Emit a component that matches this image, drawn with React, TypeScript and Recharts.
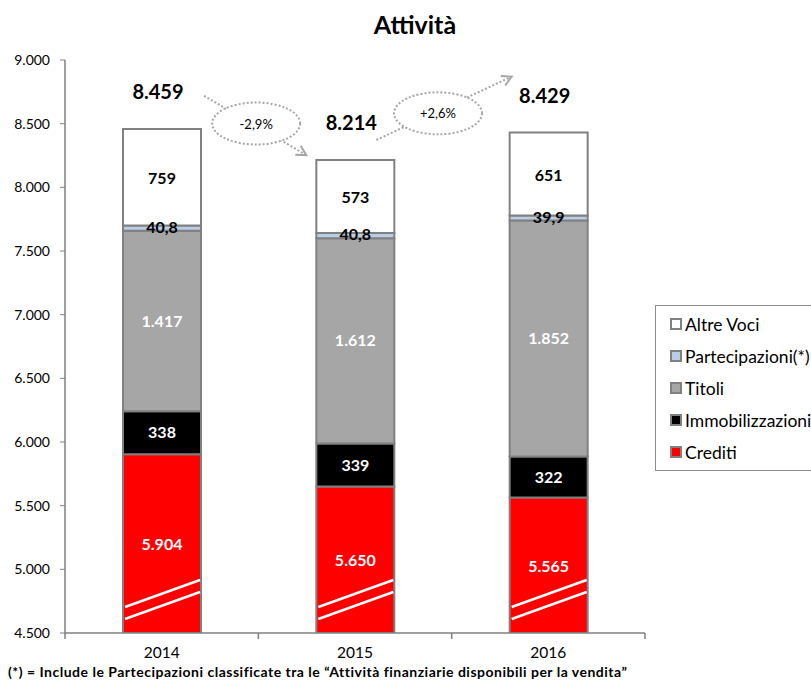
import { BarChart, Bar, XAxis, YAxis, LabelList } from "recharts";

const years = ["2014", "2015", "2016"];
const crediti = [5904, 5650, 5565];
const immobilizzazioni = [338, 339, 322];
const titoli = [1417, 1612, 1852];
const partecipazioni = [40.8, 40.8, 39.9];
const altreVoci = [759, 573, 651];
const totali = [8459, 8214, 8429];
const yTicks = [4500, 5000, 5500, 6000, 6500, 7000, 7500, 8000, 8500, 9000];

const series = [
  { key: "crediti", name: "Crediti", color: "#ff0000" },
  { key: "immobilizzazioni", name: "Immobilizzazioni", color: "#000000" },
  { key: "titoli", name: "Titoli", color: "#a6a6a6" },
  { key: "partecipazioni", name: "Partecipazioni(*)", color: "#b9cde5" },
  { key: "altreVoci", name: "Altre Voci", color: "#ffffff" },
];

const data = years.map((year, i) => ({
  year,
  crediti: crediti[i],
  immobilizzazioni: immobilizzazioni[i],
  titoli: titoli[i],
  partecipazioni: partecipazioni[i],
  altreVoci: altreVoci[i],
}));

const FONT = "Lato, 'Open Sans', sans-serif";
const BORDER = "#808080";
const CHART_W = 811;
const CHART_H = 681;
const MARGIN = { top: 60, right: 166, bottom: 18, left: 0 };
const Y_AXIS_W = 65;
const X_AXIS_H = 30;
const PLOT_BOTTOM = CHART_H - MARGIN.bottom - X_AXIS_H;
const PLOT_W = CHART_W - MARGIN.right - MARGIN.left - Y_AXIS_W;
const STEP = PLOT_W / years.length;

// 5904 -> "5.904", 40.8 -> "40,8"
function fmt(v: number) {
  if (!Number.isInteger(v)) return v.toFixed(1).replace(".", ",");
  return String(v).replace(/\B(?=(\d{3})+(?!\d))/g, ".");
}

function pct(a: number, b: number) {
  const p = ((b - a) / a) * 100;
  return (p > 0 ? "+" : "") + p.toFixed(1).replace(".", ",") + "%";
}

function box(props: any) {
  const vb = props.viewBox ?? props;
  return { x: Number(vb.x), y: Number(vb.y), width: Number(vb.width), height: Number(vb.height) };
}

// year label plus the small tick marks between categories
const YearTick = (props: any) => {
  const { x, y, payload, index } = props;
  const axisY = PLOT_BOTTOM;
  return (
    <g>
      {index === 0 && <line x1={x - STEP / 2} y1={axisY} x2={x - STEP / 2} y2={axisY + 6} stroke={BORDER} strokeWidth={1.5} />}
      <line x1={x + STEP / 2} y1={axisY} x2={x + STEP / 2} y2={axisY + 6} stroke={BORDER} strokeWidth={1.5} />
      <text x={x} y={y} dy="0.71em" textAnchor="middle" fontSize={15.5} fill="#000" fontFamily={FONT}>
        {payload.value}
      </text>
    </g>
  );
};

// red segment is cut at the axis, with the white "break" marks
const CreditiShape = (p: any) => {
  const { x, y, width, height, fill } = p;
  const bottom = Math.min(y + height, PLOT_BOTTOM);
  return (
    <g>
      <rect x={x} y={y} width={width} height={bottom - y} fill={fill} stroke={BORDER} strokeWidth={2} />
      <line x1={x + 2} y1={bottom - 26} x2={x + width - 1} y2={bottom - 53} stroke="#fff" strokeWidth={2.5} />
      <line x1={x + 2} y1={bottom - 14} x2={x + width - 1} y2={bottom - 41} stroke="#fff" strokeWidth={2.5} />
    </g>
  );
};

const CreditiLabel = (props: any) => {
  const { x, y, width, height } = box(props);
  const bottom = Math.min(y + height, PLOT_BOTTOM);
  return (
    <text x={x + width / 2} y={(y + bottom) / 2} textAnchor="middle" dominantBaseline="central"
      fill="#fff" fontSize={16} fontWeight="bold" fontFamily={FONT}>
      {fmt(Number(props.value))}
    </text>
  );
};

const Arrow = ({ x1, y1, x2, y2 }: { x1: number; y1: number; x2: number; y2: number }) => {
  const a = Math.atan2(y2 - y1, x2 - x1);
  const h = 11;
  const p1 = [x2 - h * Math.cos(a - 0.5), y2 - h * Math.sin(a - 0.5)];
  const p2 = [x2 - h * Math.cos(a + 0.5), y2 - h * Math.sin(a + 0.5)];
  return (
    <g>
      <line x1={x1} y1={y1} x2={x2} y2={y2} stroke="#a6a6a6" strokeWidth={2} strokeDasharray="2 2" />
      <polyline points={`${p1[0]},${p1[1]} ${x2},${y2} ${p2[0]},${p2[1]}`} fill="none" stroke="#a6a6a6" strokeWidth={2} />
    </g>
  );
};

// top segment: its own label, the thin Partecipazioni label, the total and the change bubble
const TopLabel = (props: any) => {
  const { x, y, width, height } = box(props);
  const i = props.index ?? altreVoci.indexOf(Number(props.value));
  const k = height / altreVoci[i];
  const cx = x + width / 2;
  const lx = cx - 4;
  const ly = y - 38;
  const partY = y + height + (partecipazioni[i] * k) / 2;

  let connector = null;
  if (i < years.length - 1) {
    const nTop = y + (totali[i] - totali[i + 1]) * k;
    const nlx = lx + STEP;
    const nly = nTop - 38;
    const down = totali[i + 1] < totali[i];
    const s = down ? [lx + 46, ly + 5] : [lx + 25, ly + 18];
    const e = down ? [nlx - 45, nly + 33] : [nlx - 33, nly - 18];
    const mx = (s[0] + e[0]) / 2 + (down ? 1 : -6);
    const my = (s[1] + e[1]) / 2 + (down ? -2 : 5);
    connector = (
      <g>
        <Arrow x1={s[0]} y1={s[1]} x2={e[0]} y2={e[1]} />
        <ellipse cx={mx} cy={my} rx={44} ry={21} fill="#fff" stroke="#a6a6a6" strokeWidth={2} strokeDasharray="2 2" />
        <text x={mx} y={my} textAnchor="middle" dominantBaseline="central" fontSize={13} fontFamily={FONT} fill="#000">
          {pct(totali[i], totali[i + 1])}
        </text>
      </g>
    );
  }

  return (
    <g>
      <text x={cx} y={y + height / 2} textAnchor="middle" dominantBaseline="central"
        fill="#000" fontSize={16} fontWeight="bold" fontFamily={FONT}>
        {fmt(altreVoci[i])}
      </text>
      <text x={cx} y={partY - 2} textAnchor="middle" dominantBaseline="central"
        fill="#000" fontSize={16} fontWeight="bold" fontFamily={FONT}>
        {fmt(partecipazioni[i])}
      </text>
      <text x={lx} y={ly} textAnchor="middle" dominantBaseline="central"
        fill="#000" fontSize={20} fontWeight="bold" fontFamily={FONT}>
        {fmt(totali[i])}
      </text>
      {connector}
    </g>
  );
};

export default function App() {
  return (
    <div style={{ position: "absolute", left: 0, top: 0, width: CHART_W, height: CHART_H, overflow: "hidden", background: "#fff", fontFamily: FONT }}>
      <div style={{ position: "absolute", left: 300, top: 9, width: 230, textAlign: "center", fontSize: 25, fontWeight: "bold", lineHeight: "30px" }}>
        Attività
      </div>
      <BarChart width={CHART_W} height={CHART_H} data={data} margin={MARGIN} barSize={78}>
        <XAxis
          dataKey="year"
          height={X_AXIS_H}
          tickLine={false}
          tickSize={0}
          tickMargin={14}
          axisLine={{ stroke: BORDER, strokeWidth: 1.5 }}
          tick={YearTick}
        />
        <YAxis
          width={Y_AXIS_W}
          domain={[4500, 9000]}
          ticks={yTicks}
          allowDataOverflow
          interval={0}
          tickSize={5}
          tickMargin={10}
          axisLine={{ stroke: BORDER, strokeWidth: 1.5 }}
          tickLine={{ stroke: BORDER }}
          tick={{ fontSize: 14, fill: "#000", fontFamily: FONT }}
          tickFormatter={(v: number) => fmt(v)}
        />
        <Bar dataKey="crediti" stackId="a" fill="#ff0000" shape={CreditiShape} isAnimationActive={false}>
          <LabelList dataKey="crediti" content={CreditiLabel} />
        </Bar>
        <Bar dataKey="immobilizzazioni" stackId="a" fill="#000000" stroke={BORDER} strokeWidth={2} isAnimationActive={false}>
          <LabelList dataKey="immobilizzazioni" position="center" fill="#fff" fontSize={16} fontWeight="bold" fontFamily={FONT} formatter={(v: any) => fmt(Number(v))} />
        </Bar>
        <Bar dataKey="titoli" stackId="a" fill="#a6a6a6" stroke={BORDER} strokeWidth={2} isAnimationActive={false}>
          <LabelList dataKey="titoli" position="center" fill="#fff" fontSize={16} fontWeight="bold" fontFamily={FONT} formatter={(v: any) => fmt(Number(v))} />
        </Bar>
        <Bar dataKey="partecipazioni" stackId="a" fill="#b9cde5" stroke={BORDER} strokeWidth={2} isAnimationActive={false} />
        <Bar dataKey="altreVoci" stackId="a" fill="#ffffff" stroke={BORDER} strokeWidth={2} isAnimationActive={false}>
          <LabelList dataKey="altreVoci" content={TopLabel} />
        </Bar>
      </BarChart>
      <div style={{ position: "absolute", left: 655, top: 305, width: 180, height: 164, border: "1px solid #8c8c8c", background: "#fff" }}>
        {[...series].reverse().map((s, i) => (
          <div key={s.key} style={{ position: "absolute", left: 14, top: 7 + i * 32, height: 22, display: "flex", alignItems: "center", fontSize: 17.5, whiteSpace: "nowrap" }}>
            <span style={{ display: "inline-block", width: 8, height: 8, border: `2px solid ${BORDER}`, background: s.color, marginRight: 3 }} />
            {s.name}
          </div>
        ))}
      </div>
      <div style={{ position: "absolute", left: 8, top: 665, fontSize: 14, lineHeight: "14px", letterSpacing: 0.5, fontWeight: "bold", whiteSpace: "nowrap" }}>
        (*) = Include le Partecipazioni classificate tra le “Attività finanziarie disponibili per la vendita”
      </div>
    </div>
  );
}
